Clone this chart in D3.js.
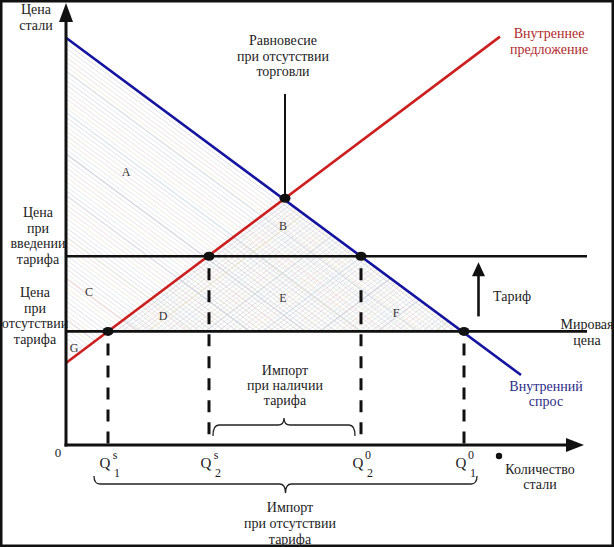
<!DOCTYPE html>
<html>
<head>
<meta charset="utf-8">
<script src="https://cdn.jsdelivr.net/npm/d3@7"></script>
<style>
  body { margin: 0; background: #fff; }
  svg text { font-family: "Liberation Serif", "DejaVu Serif", serif; }
</style>
</head>
<body>
<div id="chart"></div>
<script>
// Data (quantity 0..100, price 0..100)
var demandLine = [[0, 101.8], [91, 17.5]];
var supplyLine = [[0, 20.5], [86.8, 102.1]];
var worldPrice = 28.4;
var tariffPrice = 47.2;
var equilibrium = [43.8, 61.7];
var qValues = [8.4, 28.6, 59, 79.6];
var qFrom = [28.4, 47.2, 47.2, 28.4];
var qSup = ['s', 's', '0', '0'];
var qSub = ['1', '2', '2', '1'];
var dotPoints = [[8.4, 28.4], [28.6, 47.2], [43.8, 61.7], [59, 47.2], [79.6, 28.4]];
var areaNames = ['A', 'B', 'C', 'D', 'E', 'F', 'G'];
var areaQ = [12, 43.4, 4.6, 19.4, 43.4, 66, 1.6];
var areaP = [68.5, 54.8, 38.5, 32.5, 36.8, 33.2, 24.5];

var width = 614, height = 547;

var svg = d3.select('#chart').append('svg')
	.attr('width', width)
	.attr('height', height);

var x = d3.scaleLinear().domain([0, 100]).range([66, 566]);
var y = d3.scaleLinear().domain([0, 100]).range([445, 45]);

var line = d3.line().x(function(d) { return x(d[0]); }).y(function(d) { return y(d[1]); });

// Clip areas for the hatching
var defs = svg.append('defs');
defs.append('clipPath').attr('id', 'clipSurplus')
	.append('path')
	.attr('d', line([demandLine[0], [qValues[3], worldPrice], [qValues[0], worldPrice], supplyLine[0]]) + 'Z');
defs.append('clipPath').attr('id', 'clipCross')
	.append('path')
	.attr('d', line([[qValues[0], worldPrice], equilibrium, [qValues[3], worldPrice]]) + 'Z');

var hatchColours = ['#c4c7d6', '#d9c3cb', '#c3d2df', '#cfdac6', '#e0d5b8', '#b9bdd0', '#e2c0c0', '#c8cfd2'];

function slopeOf(l) {
	return (y(l[1][1]) - y(l[0][1])) / (x(l[1][0]) - x(l[0][0]));
}

// Draw parallel thin coloured lines inside a clip path
function hatch(clipId, slope, step, opacity, shift) {
	var g = svg.append('g').attr('clip-path', 'url(#' + clipId + ')');
	var i = 0;
	for (var b = -700; b < 1100; b += step) {
		g.append('line')
			.attr('x1', 0).attr('y1', b)
			.attr('x2', width).attr('y2', b + slope * width)
			.attr('stroke', hatchColours[(i * 3 + shift) % hatchColours.length])
			.attr('stroke-width', (i % 9 == 4) ? 1.3 : 0.8)
			.attr('stroke-opacity', opacity);
		i++;
	}
}

hatch('clipSurplus', slopeOf(demandLine), 4.6, 0.6, 0);
hatch('clipCross', slopeOf(supplyLine), 4.8, 0.6, 2);
hatch('clipCross', slopeOf(demandLine), 9, 0.4, 5);

// Frame
svg.append('rect')
	.attr('x', 0).attr('y', 0)
	.attr('width', width).attr('height', height)
	.attr('fill', 'none')
	.attr('stroke', '#111')
	.attr('stroke-width', 5);

// Texts
function block(lines, cx, cy, opts) {
	opts = opts || {};
	var t = svg.append('text')
		.attr('text-anchor', 'middle')
		.attr('font-size', opts.size || 14)
		.attr('fill', opts.fill || '#222');
	lines.forEach(function(s, i) {
		t.append('tspan').attr('x', cx).attr('y', cy + 5 + i * (opts.lh || 15.5)).text(s);
	});
	return t;
}

block(['Цена', 'стали'], 36, 9, {lh: 16});
block(['Равновесие', 'при отсутствии', 'торговли'], 283, 40);
block(['Внутреннее', 'предложение'], 549, 33, {fill: '#b02a2a'});
block(['Цена', 'при', 'введении', 'тарифа'], 38, 212, {lh: 15.6});
block(['Цена', 'при', 'отсутствии', 'тарифа'], 35, 292, {lh: 15.6});
block(['Тариф'], 512, 296);
block(['Мировая', 'цена'], 587, 324, {lh: 16});
block(['Внутренний', 'спрос'], 546, 386, {fill: '#2c2c88', lh: 15});
block(['Импорт', 'при наличии', 'тарифа'], 285, 370, {lh: 15});
block(['Количество', 'стали'], 540, 469, {lh: 14.5});
block(['Импорт', 'при отсутствии', 'тарифа'], 290, 507, {lh: 16});
block(['0'], 58, 452, {size: 13});

// Area letters
areaNames.forEach(function(n, i) {
	svg.append('text')
		.attr('x', x(areaQ[i])).attr('y', y(areaP[i]) + 4.5)
		.attr('text-anchor', 'middle')
		.attr('font-size', 12)
		.attr('fill', '#333')
		.text(n);
});

// Q labels
qValues.forEach(function(q, i) {
	var cx = x(q);
	svg.append('text').attr('x', cx - 3).attr('y', 468).attr('text-anchor', 'middle')
		.attr('font-size', 15).attr('fill', '#222').text('Q');
	svg.append('text').attr('x', cx + 7).attr('y', 459).attr('text-anchor', 'middle')
		.attr('font-size', 12).attr('fill', '#222').text(qSup[i]);
	svg.append('text').attr('x', cx + 9).attr('y', 477).attr('text-anchor', 'middle')
		.attr('font-size', 12).attr('fill', '#222').text(qSub[i]);
});

// Braces
function brace(x1, x2, yEnd, yMid, yTip) {
	var xm = (x1 + x2) / 2, r = 6;
	return 'M' + x1 + ',' + yEnd +
		'Q' + x1 + ',' + yMid + ' ' + (x1 + r) + ',' + yMid +
		'L' + (xm - r) + ',' + yMid +
		'Q' + xm + ',' + yMid + ' ' + xm + ',' + yTip +
		'Q' + xm + ',' + yMid + ' ' + (xm + r) + ',' + yMid +
		'L' + (x2 - r) + ',' + yMid +
		'Q' + x2 + ',' + yMid + ' ' + x2 + ',' + yEnd;
}
svg.append('path')
	.attr('d', brace(x(qValues[1]) + 4, x(qValues[2]) - 6, 436, 425, 418))
	.attr('fill', 'none').attr('stroke', '#222').attr('stroke-width', 1.3);
svg.append('path')
	.attr('d', brace(x(qValues[0]) - 14, x(qValues[3]) + 13, 476, 484, 493))
	.attr('fill', 'none').attr('stroke', '#222').attr('stroke-width', 1.3);

// Dashed drop lines
qValues.forEach(function(q, i) {
	svg.append('line')
		.attr('x1', x(q)).attr('y1', y(qFrom[i]) + 12)
		.attr('x2', x(q)).attr('y2', y(0))
		.attr('stroke', '#111').attr('stroke-width', 3)
		.attr('stroke-dasharray', '12,10');
});

// Price levels
[worldPrice, tariffPrice].forEach(function(p) {
	svg.append('line')
		.attr('x1', x(0)).attr('y1', y(p))
		.attr('x2', 587).attr('y2', y(p))
		.attr('stroke', '#111').attr('stroke-width', 2.6);
});

// Supply and demand
svg.append('path').attr('d', line(supplyLine))
	.attr('fill', 'none').attr('stroke', '#cc2020').attr('stroke-width', 2.6);
svg.append('path').attr('d', line(demandLine))
	.attr('fill', 'none').attr('stroke', '#1414a0').attr('stroke-width', 2.6);

// Pointer to no-trade equilibrium
svg.append('line')
	.attr('x1', x(equilibrium[0])).attr('y1', 94)
	.attr('x2', x(equilibrium[0])).attr('y2', y(equilibrium[1]))
	.attr('stroke', '#111').attr('stroke-width', 2);

// Tariff arrow
var ax = 478.5;
svg.append('line')
	.attr('x1', ax).attr('y1', y(worldPrice) - 15)
	.attr('x2', ax).attr('y2', y(tariffPrice) + 16)
	.attr('stroke', '#111').attr('stroke-width', 2.6);
svg.append('path')
	.attr('d', 'M' + (ax - 6.5) + ',' + (y(tariffPrice) + 20) + 'L' + ax + ',' + (y(tariffPrice) + 6) + 'L' + (ax + 6.5) + ',' + (y(tariffPrice) + 20) + 'Z')
	.attr('fill', '#111');

// Axes with arrow heads
svg.append('line')
	.attr('x1', x(0)).attr('y1', y(0) + 1.5)
	.attr('x2', x(0)).attr('y2', 18)
	.attr('stroke', '#111').attr('stroke-width', 3);
svg.append('path')
	.attr('d', 'M' + (x(0) - 7) + ',22L' + x(0) + ',3L' + (x(0) + 7) + ',22Z')
	.attr('fill', '#111');
svg.append('line')
	.attr('x1', x(0) - 1.5).attr('y1', y(0))
	.attr('x2', 570).attr('y2', y(0))
	.attr('stroke', '#111').attr('stroke-width', 3);
svg.append('path')
	.attr('d', 'M566,' + (y(0) - 7) + 'L584,' + y(0) + 'L566,' + (y(0) + 7) + 'Z')
	.attr('fill', '#111');

// Small dot next to the axis title
svg.append('circle').attr('cx', 499).attr('cy', 456).attr('r', 3.2).attr('fill', '#111');

// Intersection points
svg.selectAll('.pt').data(dotPoints).enter().append('ellipse')
	.attr('class', 'pt')
	.attr('cx', function(d) { return x(d[0]); })
	.attr('cy', function(d) { return y(d[1]); })
	.attr('rx', 5.5).attr('ry', 4.5)
	.attr('fill', '#111');
</script>
</body>
</html>
